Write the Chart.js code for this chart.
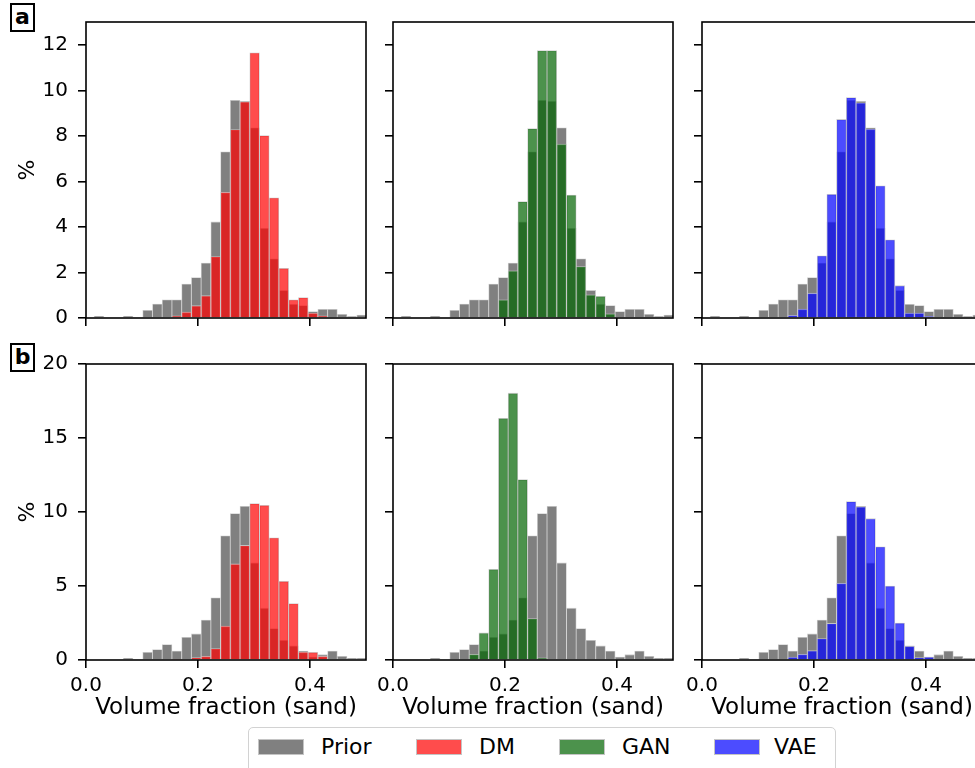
<!DOCTYPE html>
<html>
<head>
<meta charset="utf-8">
<script src="https://cdn.jsdelivr.net/npm/chart.js@4.4.1/dist/chart.umd.min.js"></script>
<style>
  body { margin: 0; width: 975px; height: 768px; overflow: hidden; background: #fff; position: relative; font-family: 'DejaVu Sans', sans-serif; }
  canvas { position: absolute; }
  .tag { position: absolute; left: 10px; width: 21px; height: 25px; border: 2px solid #000; font-weight: bold; font-size: 22px; line-height: 24px; text-align: center; }
  #legend { position: absolute; left: 248px; top: 727px; width: 586px; height: 50px; border: 1.3px solid #d2d2d2; border-radius: 5px; background: #fff; }
  #legend .sw { position: absolute; top: 11px; width: 46px; height: 16px; box-sizing: border-box; border: 1px solid #c4c4c4; }
  #legend .lb { position: absolute; top: 6px; font-size: 22px; line-height: 26px; color: #000; }
</style>
</head>
<body>
<div class="tag" style="top:3px">a</div>
<div class="tag" style="top:343px">b</div>
<div id="legend"></div>
<script>
// histogram bins (centres) shared by every panel
const binCenters = [0.0232, 0.0406, 0.0579, 0.0753, 0.0927, 0.1100, 0.1274, 0.1448, 0.1621, 0.1795,
                    0.1969, 0.2143, 0.2316, 0.2490, 0.2664, 0.2837, 0.3011, 0.3185, 0.3358, 0.3532,
                    0.3706, 0.3880, 0.4053, 0.4227, 0.4401, 0.4574, 0.4748, 0.4922];

const xTicks = [0, 0.2, 0.4];
const yTicksA = [0, 2, 4, 6, 8, 10, 12];
const yTicksB = [0, 5, 10, 15, 20];

// row a
const priorA = [0.07, 0, 0, 0.07, 0, 0.34, 0.61, 0.80, 0.80, 1.49, 1.78, 2.41, 4.22, 7.30, 9.56, 9.52, 8.35, 3.94, 2.60, 1.21, 0.60, 0.55, 0.28, 0.38, 0.38, 0.16, 0.06, 0.13];
const dmA    = [0, 0, 0, 0, 0, 0, 0, 0, 0.10, 0.26, 0.54, 0.98, 2.70, 5.52, 8.28, 9.50, 11.65, 8.01, 5.28, 2.18, 0.80, 0.90, 0.22, 0.10, 0, 0, 0, 0];
const ganA   = [0, 0, 0, 0, 0, 0, 0, 0, 0, 0, 0.80, 2.07, 5.11, 8.32, 11.75, 11.75, 7.64, 5.40, 2.26, 1.02, 0.95, 0.18, 0, 0, 0, 0, 0, 0];
const vaeA   = [0, 0, 0, 0, 0, 0, 0, 0, 0.12, 0.39, 1.09, 2.73, 5.43, 8.72, 9.68, 9.45, 8.30, 5.81, 3.43, 1.42, 0.22, 0.22, 0.07, 0, 0, 0, 0, 0];

// row b
const priorB = [0, 0, 0, 0.12, 0, 0.52, 0.70, 1.04, 0.60, 1.54, 1.76, 2.70, 4.20, 8.39, 9.89, 10.38, 6.56, 3.50, 2.13, 1.33, 0.95, 0.60, 0.20, 0.36, 0.61, 0.25, 0.11, 0.11];
const dmB    = [0, 0, 0, 0, 0, 0, 0, 0, 0.05, 0, 0.16, 0.25, 0.77, 2.29, 6.49, 7.74, 10.57, 10.45, 8.26, 5.32, 3.82, 0.54, 0.52, 0.25, 0, 0, 0, 0];
const ganB   = [0, 0, 0, 0, 0, 0, 0, 0.38, 1.83, 6.13, 16.33, 18.03, 12.19, 2.80, 0.14, 0, 0, 0, 0, 0, 0, 0, 0, 0, 0, 0, 0, 0];
const vaeB   = [0, 0, 0, 0, 0, 0, 0, 0, 0.20, 0.38, 0.63, 1.45, 2.47, 5.18, 10.70, 10.35, 9.55, 7.65, 5.00, 2.49, 0.93, 0.16, 0.20, 0, 0, 0, 0, 0];

const seriesNames = ['Prior', 'DM', 'GAN', 'VAE'];
const seriesColors = ['rgb(128,128,128)', 'rgba(255,0,0,0.7)', 'rgba(0,100,0,0.7)', 'rgba(0,0,255,0.7)'];
const edgeColor = 'rgba(200,200,200,0.9)';
const FONT = 'DejaVu Sans';

// black box round the plot area, drawn over the bars
const frame = {
  id: 'frame',
  afterDatasetsDraw(chart) {
    const { ctx, chartArea: a } = chart;
    ctx.save();
    ctx.strokeStyle = '#000';
    ctx.lineWidth = 1.6;
    ctx.strokeRect(a.left, a.top, a.right - a.left, a.bottom - a.top);
    ctx.restore();
  }
};

const tickGrid = { display: true, drawOnChartArea: false, drawTicks: true, tickLength: 8, color: '#000', lineWidth: 1.6 };

function panel(col, row, prior, model, m) {
  const plotLeft = [86, 393, 702][col];
  const plotTop = row === 0 ? 22 : 364;
  const plotW = 280, plotH = 296;
  const lm = col === 0 ? 86 : 40;
  const tm = 20, rm = 20;
  const bm = row === 0 ? 15 : 65;

  const canvas = document.createElement('canvas');
  canvas.width = lm + plotW + rm;
  canvas.height = tm + plotH + bm;
  canvas.style.left = (plotLeft - lm) + 'px';
  canvas.style.top = (plotTop - tm) + 'px';
  document.body.appendChild(canvas);

  const pts = vals => binCenters.map((x, i) => ({ x: x, y: vals[i] }));
  const yTicks = row === 0 ? yTicksA : yTicksB;

  new Chart(canvas, {
    type: 'bar',
    data: {
      datasets: [
        { label: seriesNames[0], data: pts(prior), backgroundColor: seriesColors[0], borderColor: edgeColor, borderWidth: 0.8, order: 2 },
        { label: seriesNames[m], data: pts(model), backgroundColor: seriesColors[m], borderColor: edgeColor, borderWidth: 0.8, order: 1 }
      ]
    },
    options: {
      responsive: false,
      animation: false,
      devicePixelRatio: 1,
      layout: { padding: { left: 0, top: tm, right: rm, bottom: 0 } },
      plugins: { legend: { display: false }, tooltip: { enabled: false } },
      datasets: { bar: { grouped: false, barPercentage: 1, categoryPercentage: 1, clip: 0 } },
      scales: {
        x: {
          type: 'linear', min: 0, max: 0.5, offset: false,
          afterBuildTicks: s => { s.ticks = xTicks.map(v => ({ value: v })); },
          afterFit: s => { s.height = bm; s.paddingLeft = 0; s.paddingRight = 0; },
          grid: Object.assign({ offset: false }, tickGrid),
          border: { display: false },
          ticks: { display: row === 1, padding: 6, color: '#000', font: { family: FONT, size: 20 }, maxRotation: 0, callback: v => v.toFixed(1) },
          title: { display: row === 1, text: 'Volume fraction (sand)', color: '#000', font: { family: FONT, size: 23 }, padding: { top: 0, bottom: 3 } }
        },
        y: {
          type: 'linear', min: 0, max: row === 0 ? 13 : 20,
          afterBuildTicks: s => { s.ticks = yTicks.map(v => ({ value: v })); },
          afterFit: s => { s.width = lm; s.paddingTop = 0; s.paddingBottom = 0; },
          grid: tickGrid,
          border: { display: false },
          ticks: { display: col === 0, padding: 10, color: '#000', font: { family: FONT, size: 20 } },
          title: { display: col === 0, text: '%', color: '#000', font: { family: FONT, size: 22 }, padding: { top: 15, bottom: 0 } }
        }
      }
    },
    plugins: [frame]
  });
}

panel(0, 0, priorA, dmA, 1);
panel(1, 0, priorA, ganA, 2);
panel(2, 0, priorA, vaeA, 3);
panel(0, 1, priorB, dmB, 1);
panel(1, 1, priorB, ganB, 2);
panel(2, 1, priorB, vaeB, 3);

// shared legend below the grid
const legend = document.getElementById('legend');
const swatchLeft = [9, 167, 310, 465];
const textLeft = [72, 230, 373, 525];
seriesNames.forEach((name, i) => {
  const sw = document.createElement('span');
  sw.className = 'sw';
  sw.style.left = swatchLeft[i] + 'px';
  sw.style.background = seriesColors[i];
  legend.appendChild(sw);
  const lb = document.createElement('span');
  lb.className = 'lb';
  lb.style.left = textLeft[i] + 'px';
  lb.textContent = name;
  legend.appendChild(lb);
});
</script>
</body>
</html>
